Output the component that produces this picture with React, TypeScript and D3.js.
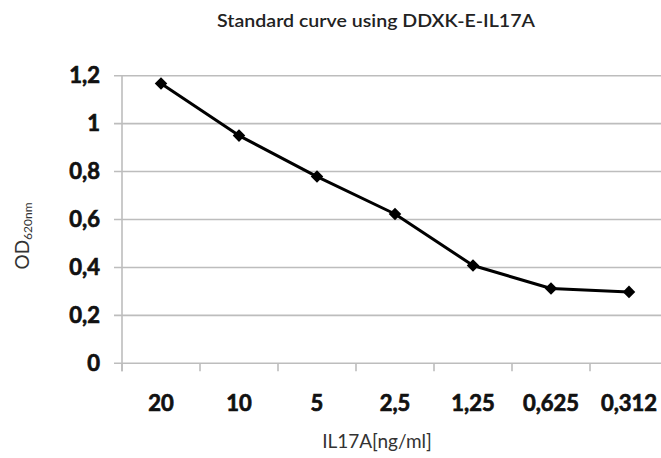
import { useRef, useEffect } from 'react';
import * as d3 from 'd3';

const concentrations = ['20', '10', '5', '2,5', '1,25', '0,625', '0,312'];
const odValues = [1.167, 0.95, 0.779, 0.623, 0.408, 0.312, 0.298];
const yTicks = [0, 0.2, 0.4, 0.6, 0.8, 1, 1.2];

export default function App() {
    const chartRef = useRef<SVGSVGElement>(null);

    useEffect(() => {
        document.body.style.margin = '0';
        if (!chartRef.current) return;

        const svg = d3.select(chartRef.current);
        svg.selectAll('*').remove();

        const width = 661;
        const height = 458;
        const left = 122;
        const top = 75.7;
        const bottom = 363.3;
        const band = 78;
        const font = 'Lato, "Open Sans", sans-serif';

        svg.attr('width', width).attr('height', height);

        const x = d3.scaleBand<string>()
            .domain(concentrations)
            .range([left, left + band * concentrations.length])
            .padding(0);

        const y = d3.scaleLinear()
            .domain([0, 1.2])
            .range([bottom, top]);

        const fmt = (d: number) => String(d).replace('.', ',');

        // Gridlines
        svg.append('g')
            .selectAll('line')
            .data(yTicks)
            .enter()
            .append('line')
            .attr('x1', left - 8)
            .attr('x2', width)
            .attr('y1', d => y(d))
            .attr('y2', d => y(d))
            .attr('stroke', '#bdbdbd')
            .attr('stroke-width', 1.6);

        // Y axis line
        svg.append('line')
            .attr('x1', left)
            .attr('x2', left)
            .attr('y1', top)
            .attr('y2', bottom + 8)
            .attr('stroke', '#bdbdbd')
            .attr('stroke-width', 1.6);

        // X axis ticks at band boundaries
        svg.append('g')
            .selectAll('line')
            .data(concentrations)
            .enter()
            .append('line')
            .attr('x1', d => x(d)!)
            .attr('x2', d => x(d)!)
            .attr('y1', bottom)
            .attr('y2', bottom + 8)
            .attr('stroke', '#bdbdbd')
            .attr('stroke-width', 1.6);

        // Y tick labels
        svg.append('g')
            .selectAll('text')
            .data(yTicks)
            .enter()
            .append('text')
            .attr('x', 100)
            .attr('y', d => y(d) + 7.5)
            .attr('text-anchor', 'end')
            .attr('font-family', font)
            .attr('font-weight', 'bold')
            .attr('font-size', '22px')
            .attr('fill', '#111')
            .attr('stroke', '#111')
            .attr('stroke-width', 0.7)
            .text(d => fmt(d));

        // X tick labels
        svg.append('g')
            .selectAll('text')
            .data(concentrations)
            .enter()
            .append('text')
            .attr('x', d => x(d)! + x.bandwidth() / 2)
            .attr('y', 411)
            .attr('text-anchor', 'middle')
            .attr('font-family', font)
            .attr('font-weight', 'bold')
            .attr('font-size', '22px')
            .attr('fill', '#111')
            .attr('stroke', '#111')
            .attr('stroke-width', 0.7)
            .text(d => d);

        // Line
        const line = d3.line<number>()
            .x((_, i) => x(concentrations[i])! + x.bandwidth() / 2)
            .y(d => y(d));

        svg.append('path')
            .datum(odValues)
            .attr('d', line)
            .attr('fill', 'none')
            .attr('stroke', '#000')
            .attr('stroke-width', 3)
            .attr('stroke-linejoin', 'round');

        // Diamond markers
        const diamond = d3.symbol().type(d3.symbolDiamond2).size(100);
        svg.append('g')
            .selectAll('path')
            .data(odValues)
            .enter()
            .append('path')
            .attr('d', diamond)
            .attr('transform', (d, i) =>
                `translate(${x(concentrations[i])! + x.bandwidth() / 2},${y(d)})`)
            .attr('fill', '#000');

        // Title
        svg.append('text')
            .attr('x', 376)
            .attr('y', 27)
            .attr('text-anchor', 'middle')
            .attr('font-family', font)
            .attr('font-weight', 600)
            .attr('font-size', '17px')
            .attr('textLength', 318)
            .attr('lengthAdjust', 'spacingAndGlyphs')
            .attr('fill', '#222')
            .text('Standard curve using DDXK-E-IL17A');

        // X axis title
        svg.append('text')
            .attr('x', 377)
            .attr('y', 448)
            .attr('text-anchor', 'middle')
            .attr('font-family', font)
            .attr('font-size', '19px')
            .attr('fill', '#333')
            .text('IL17A[ng/ml]');

        // Y axis title with subscript
        const yt = svg.append('text')
            .attr('transform', 'translate(29,236) rotate(-90)')
            .attr('text-anchor', 'middle')
            .attr('font-family', font)
            .attr('font-size', '19px')
            .attr('fill', '#333');
        yt.append('tspan').text('OD');
        yt.append('tspan')
            .attr('font-size', '12px')
            .attr('dy', 3)
            .text('620nm');
    }, []);

    return <svg ref={chartRef} style={{ display: 'block' }}></svg>;
}
